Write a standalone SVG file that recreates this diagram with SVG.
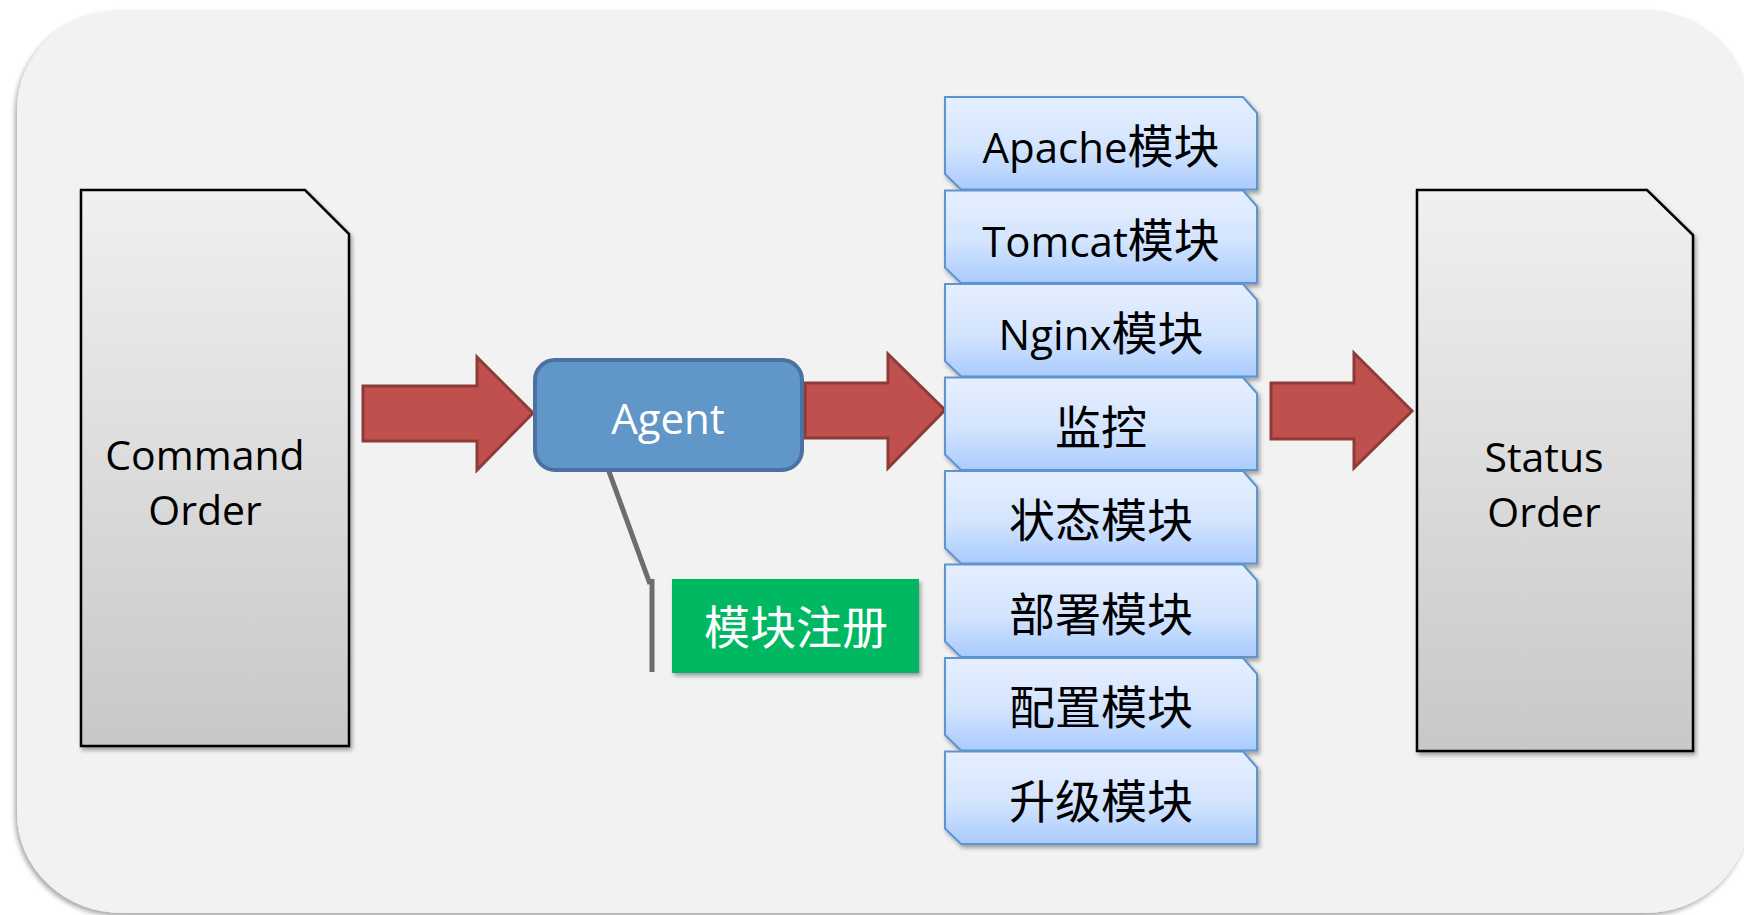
<svg xmlns="http://www.w3.org/2000/svg" width="1744" height="915" viewBox="0 0 1744 915">
  <defs>
    <linearGradient id="docFill" x1="0" y1="0" x2="0" y2="1">
      <stop offset="0" stop-color="#f0f0f0"/>
      <stop offset="1" stop-color="#c8c8c8"/>
    </linearGradient>
    <linearGradient id="modFill" x1="0" y1="0" x2="0" y2="1">
      <stop offset="0" stop-color="#e6efff"/>
      <stop offset="0.55" stop-color="#d3e4fe"/>
      <stop offset="1" stop-color="#a9cbfd"/>
    </linearGradient>
    <filter id="bgShadow" x="-5%" y="-5%" width="110%" height="110%">
      <feDropShadow dx="-2" dy="3" stdDeviation="2.5" flood-color="#000" flood-opacity="0.35"/>
    </filter>
    <filter id="shadow" x="-10%" y="-10%" width="125%" height="125%">
      <feDropShadow dx="2" dy="3" stdDeviation="2" flood-color="#000" flood-opacity="0.35"/>
    </filter>
  </defs>
  <style>
    .doc { fill: url(#docFill); stroke: #000; stroke-width: 2.5; filter: url(#shadow); }
    .mod { fill: url(#modFill); stroke: #5f95cf; stroke-width: 2; filter: url(#shadow); }
    .arrow { fill: #c0504d; stroke: #8c3b38; stroke-width: 3; stroke-linejoin: miter; }
    .lat { font-family: "Open Sans", "Noto Sans CJK SC", sans-serif; }
    .label { font-size: 42px; fill: #000; text-anchor: middle; }
    .cjk { font-family: "Noto Sans CJK SC", sans-serif; font-size: 46px; }
    .doctext { font-size: 41px; fill: #000; text-anchor: middle; }
  </style>

  <!-- backdrop panel -->
  <rect x="17" y="10" width="1733" height="903" rx="105" ry="100" fill="#f2f2f2" filter="url(#bgShadow)"/>

  <!-- incoming command document -->
  <g id="command-order">
    <path class="doc" d="M81,190 L305,190 L349,234 L349,746 L81,746 Z"/>
    <text class="lat doctext" x="205" y="470">Command</text>
    <text class="lat doctext" x="205" y="525">Order</text>
  </g>

  <!-- outgoing status document -->
  <g id="status-order">
    <path class="doc" d="M1417,190 L1647,190 L1693,235 L1693,751 L1417,751 Z"/>
    <text class="lat doctext" x="1544" y="472">Status</text>
    <text class="lat doctext" x="1544" y="527">Order</text>
  </g>

  <!-- connectors: block arrows and the callout leader -->
  <g id="connectors">
    <path class="arrow" d="M363,386 L477,386 L477,357 L533,413 L477,470 L477,441 L363,441 Z"/>
    <path class="arrow" d="M805,383 L888,383 L888,354 L945,410 L888,468 L888,438 L805,438 Z"/>
    <path class="arrow" d="M1271,383 L1354,383 L1354,353 L1412,411 L1354,468 L1354,439 L1271,439 Z"/>
    <path d="M607,466 L650,584 M652,579 L652,672" fill="none" stroke="#6d6d6d" stroke-width="5"/>
  </g>

  <!-- agent -->
  <g id="agent">
    <rect x="535" y="360" width="267" height="110" rx="20" ry="20" fill="#6096c8" stroke="#4a71a0" stroke-width="4"/>
    <text class="lat" x="668" y="434" font-size="42" fill="#fff" text-anchor="middle">Agent</text>
  </g>

  <!-- module registration callout -->
  <g id="module-registration">
    <rect x="672" y="579" width="247" height="94" fill="#00b862" filter="url(#shadow)"/>
    <text class="cjk" x="796" y="644" fill="#fff" text-anchor="middle">模块注册</text>
  </g>

  <!-- module stack -->
  <g id="module-apache">
    <path class="mod" d="M945,97 L1243,97 L1257,113 L1257,189.5 L961,189.5 L945,174 Z"/>
    <text class="lat label" x="1101" y="163">Apache<tspan class="cjk">模块</tspan></text>
  </g>
  <g id="module-tomcat">
    <path class="mod" d="M945,190.5 L1243,190.5 L1257,206.5 L1257,283 L961,283 L945,267.5 Z"/>
    <text class="lat label" x="1101" y="256.5">Tomcat<tspan class="cjk">模块</tspan></text>
  </g>
  <g id="module-nginx">
    <path class="mod" d="M945,284 L1243,284 L1257,300 L1257,376.5 L961,376.5 L945,361 Z"/>
    <text class="lat label" x="1101" y="350">Nginx<tspan class="cjk">模块</tspan></text>
  </g>
  <g id="module-monitor">
    <path class="mod" d="M945,377.5 L1243,377.5 L1257,393.5 L1257,470 L961,470 L945,454.5 Z"/>
    <text class="lat label" x="1101" y="443.5"><tspan class="cjk">监控</tspan></text>
  </g>
  <g id="module-status">
    <path class="mod" d="M945,471 L1243,471 L1257,487 L1257,563.5 L961,563.5 L945,548 Z"/>
    <text class="lat label" x="1101" y="537"><tspan class="cjk">状态模块</tspan></text>
  </g>
  <g id="module-deploy">
    <path class="mod" d="M945,564.5 L1243,564.5 L1257,580.5 L1257,657 L961,657 L945,641.5 Z"/>
    <text class="lat label" x="1101" y="630.5"><tspan class="cjk">部署模块</tspan></text>
  </g>
  <g id="module-config">
    <path class="mod" d="M945,658 L1243,658 L1257,674 L1257,750.5 L961,750.5 L945,735 Z"/>
    <text class="lat label" x="1101" y="724"><tspan class="cjk">配置模块</tspan></text>
  </g>
  <g id="module-upgrade">
    <path class="mod" d="M945,751.5 L1243,751.5 L1257,767.5 L1257,844 L961,844 L945,828.5 Z"/>
    <text class="lat label" x="1101" y="817.5"><tspan class="cjk">升级模块</tspan></text>
  </g>
</svg>
